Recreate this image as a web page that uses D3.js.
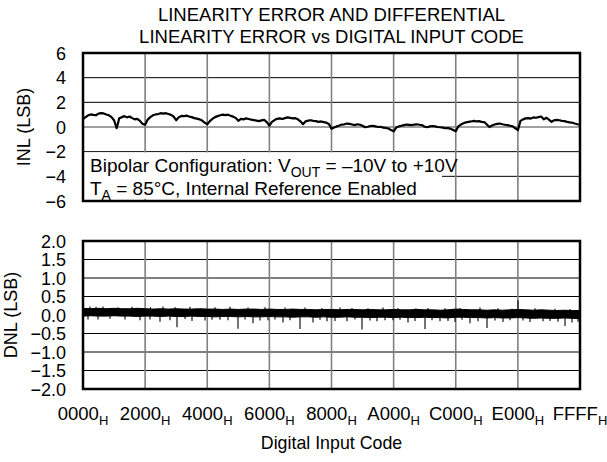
<!DOCTYPE html>
<html>
<head>
<meta charset="utf-8">
<script src="https://cdn.jsdelivr.net/npm/d3@7"></script>
<style>
  body { margin: 0; background: #fff; }
  text { font-family: "Liberation Sans", Arial, sans-serif; fill: #000; }
</style>
</head>
<body>
<div id="chart"></div>
<script>
// ---- data ----
var titleLines = ["LINEARITY ERROR AND DIFFERENTIAL", "LINEARITY ERROR vs DIGITAL INPUT CODE"];
var xTickCodes = [0x0000, 0x2000, 0x4000, 0x6000, 0x8000, 0xA000, 0xC000, 0xE000, 0xFFFF];
var xTickLabels = ["0000", "2000", "4000", "6000", "8000", "A000", "C000", "E000", "FFFF"];
var inlTicks = [6, 4, 2, 0, -2, -4, -6];
var dnlTicks = [2, 1.5, 1, 0.5, 0, -0.5, -1, -1.5, -2];

// INL, 24 samples per 2000H segment
var inlValues = [
  0.65,0.80,0.95,1.02,0.98,0.95,1.08,1.12,1.10,1.02,0.95,0.80,0.55,-0.10,0.70,0.80,0.88,0.78,0.85,0.72,0.62,0.66,0.50,0.25,
  0.18,0.60,0.80,0.95,1.02,1.05,1.12,1.08,1.12,1.05,0.98,0.85,0.55,0.80,0.90,0.88,0.92,0.85,0.80,0.72,0.68,0.62,0.52,0.35,
  0.22,0.48,0.66,0.80,0.88,0.95,1.00,0.96,1.00,0.92,0.84,0.74,0.50,0.66,0.62,0.70,0.65,0.60,0.56,0.52,0.48,0.54,0.58,0.40,
  0.12,0.42,0.56,0.66,0.70,0.65,0.72,0.78,0.74,0.70,0.72,0.62,0.46,0.22,0.46,0.52,0.55,0.50,0.48,0.42,0.45,0.40,0.35,0.25,
  -0.15,-0.05,0.05,0.12,0.20,0.22,0.28,0.25,0.20,0.15,0.22,0.18,0.10,-0.02,0.02,0.08,0.10,0.05,0.00,0.02,-0.05,-0.08,-0.12,-0.25,
  -0.35,-0.05,0.05,0.10,0.15,0.20,0.18,0.15,0.20,0.22,0.18,0.15,0.02,-0.02,0.05,0.08,0.05,0.00,-0.02,-0.05,-0.10,-0.08,-0.15,-0.25,
  -0.35,0.05,0.20,0.30,0.38,0.42,0.45,0.50,0.45,0.48,0.42,0.40,0.20,0.00,0.12,0.20,0.25,0.28,0.22,0.18,0.15,0.10,0.05,-0.10,
  -0.25,0.50,0.62,0.70,0.72,0.68,0.78,0.75,0.80,0.85,0.62,0.75,0.60,0.42,0.55,0.58,0.55,0.50,0.48,0.42,0.38,0.35,0.28,0.22,
  0.18
];

// DNL dense band, upper and lower edge, one sample every 400H
var dnlHi = [
  0.18,0.17,0.18,0.17,0.18,0.17,0.17,0.18,0.17,0.16,0.17,0.16,0.17,
  0.16,0.16,0.17,0.16,0.16,0.15,0.16,0.15,0.16,0.16,0.15,0.16,0.15,
  0.15,0.16,0.15,0.15,0.14,0.15,0.15,0.14,0.15,0.15,0.14,0.15,0.14,
  0.14,0.15,0.14,0.14,0.15,0.14,0.14,0.13,0.14,0.16,0.15,0.14,0.14,
  0.13,0.14,0.13,0.14,0.15,0.14,0.13,0.14,0.13,0.12,0.13,0.12,0.12
];
var dnlLo = [
  -0.03,-0.02,-0.03,-0.03,-0.02,-0.03,-0.03,-0.04,-0.03,-0.03,-0.04,-0.03,-0.04,
  -0.04,-0.03,-0.04,-0.04,-0.05,-0.04,-0.04,-0.05,-0.04,-0.05,-0.05,-0.04,-0.05,
  -0.05,-0.06,-0.05,-0.05,-0.06,-0.05,-0.06,-0.06,-0.05,-0.06,-0.06,-0.07,-0.06,
  -0.06,-0.07,-0.06,-0.07,-0.07,-0.06,-0.07,-0.07,-0.08,-0.06,-0.06,-0.07,-0.07,
  -0.08,-0.07,-0.08,-0.08,-0.07,-0.08,-0.09,-0.08,-0.09,-0.09,-0.08,-0.09,-0.10
];
// DNL spikes outside the band
var spikeCodes = [
  1978, 7516, 10153, 12395, 14373, 16087, 18065, 20438, 22416, 24394, 26372, 28614, 30328, 32174,
  34811, 36789, 38767, 40877, 42855, 45097, 47074, 49052, 51030, 53272, 55382, 57360, 58019, 60656, 63557, 65271,
  659, 3560, 5538, 8835, 11472, 13450, 17010, 19120, 21362, 23340, 25318, 27296, 31251, 33229, 35866,
  37844, 39822, 41800, 43778, 46020, 48130, 49976, 52085, 54327, 56305, 58942, 61580, 62634, 64480,
  923, 1714, 2637, 4615, 6461, 8900, 10549, 12131, 14109, 17406, 19384, 21757, 23999, 26636, 29273, 31515,
  33888, 35471, 37580, 39558, 41536, 43900, 45492, 47734, 49712, 52349, 54723, 56569, 59602, 62239, 64217
];
var spikeValues = [
  -0.12, -0.14, -0.18, -0.33, -0.16, -0.15, -0.13, -0.37, -0.22, -0.14, -0.20, -0.38, -0.20, -0.17,
  -0.17, -0.39, -0.17, -0.14, -0.20, -0.38, -0.17, -0.19, -0.22, -0.35, -0.19, 0.40, -0.15, -0.17, -0.30, -0.18,
  -0.12, -0.10, -0.12, -0.12, -0.14, -0.11, -0.13, -0.14, -0.12, -0.15, -0.12, -0.14, -0.13, -0.16, -0.12,
  -0.15, -0.14, -0.13, -0.16, -0.14, -0.16, -0.13, -0.17, -0.15, -0.14, -0.19, -0.16, -0.18, -0.20,
  0.23, 0.22, 0.23, 0.21, 0.22, 0.21, 0.23, 0.21, 0.22, 0.21, 0.22, 0.20, 0.21, 0.20, 0.20, 0.19,
  0.20, 0.19, 0.18, 0.20, 0.19, 0.18, 0.19, 0.18, 0.19, 0.20, 0.18, 0.17, 0.18, 0.17, 0.16
];

// ---- layout ----
var W = 607, H = 462;
var left = 83, right = 580;
var inlTop = 53, inlBottom = 201;
var dnlTop = 241, dnlBottom = 389;
var fontSize = 18.5;

var svg = d3.select("#chart").append("svg")
    .attr("width", W)
    .attr("height", H);

var x = d3.scaleLinear().domain([0, 65535]).range([left, right]);
var yI = d3.scaleLinear().domain([-6, 6]).range([inlBottom, inlTop]);
var yD = d3.scaleLinear().domain([-2, 2]).range([dnlBottom, dnlTop]);

// title
svg.selectAll(".title")
    .data(titleLines)
    .enter()
    .append("text")
    .attr("x", (left + right) / 2)
    .attr("y", function (d, i) { return 21 + i * 22; })
    .attr("text-anchor", "middle")
    .style("font-size", fontSize + "px")
    .text(function (d) { return d; });

function drawGrid(g, y, ticks, zeroGray) {
    // horizontal lines
    g.selectAll(".hl")
        .data(ticks.slice(1, -1))
        .enter()
        .append("line")
        .attr("x1", left).attr("x2", right)
        .attr("y1", function (d) { return y(d); })
        .attr("y2", function (d) { return y(d); })
        .attr("stroke", function (d) { return (d == 0 && zeroGray) ? "#808080" : "#000"; })
        .attr("stroke-width", function (d) { return (d == 0 && zeroGray) ? 1.6 : 1; });
    // vertical lines
    g.selectAll(".vl")
        .data(xTickCodes.slice(1, -1))
        .enter()
        .append("line")
        .attr("x1", function (d) { return x(d); })
        .attr("x2", function (d) { return x(d); })
        .attr("y1", y.range()[1]).attr("y2", y.range()[0])
        .attr("stroke", "#808080")
        .attr("stroke-width", 1.6);
}

function drawFrame(g, y) {
    g.append("rect")
        .attr("x", left).attr("y", y.range()[1])
        .attr("width", right - left)
        .attr("height", y.range()[0] - y.range()[1])
        .attr("fill", "none")
        .attr("stroke", "#000")
        .attr("stroke-width", 2.5);
}

function yLabels(g, y, ticks, fmt) {
    g.selectAll(".yl")
        .data(ticks)
        .enter()
        .append("text")
        .attr("x", 66)
        .attr("y", function (d) { return y(d) + 6.5; })
        .attr("text-anchor", "end")
        .style("font-size", "18px")
        .text(function (d) { return fmt(d).replace("-", "\u2212"); });
}

// ---------- INL panel ----------
var gI = svg.append("g");
drawGrid(gI, yI, inlTicks, true);

// note box
gI.append("rect")
    .attr("x", left + 1).attr("y", yI(-2) + 0.8)
    .attr("width", 442 - left - 1)
    .attr("height", yI(-6) - yI(-2) - 3)
    .attr("fill", "#fff");

var inlLine = d3.line()
    .x(function (d, i) { return x(i * 65535 / (inlValues.length - 1)); })
    .y(function (d) { return yI(d); });

gI.append("path")
    .datum(inlValues)
    .attr("d", inlLine)
    .attr("fill", "none")
    .attr("stroke", "#000")
    .attr("stroke-width", 2.2)
    .attr("stroke-linejoin", "round");

drawFrame(gI, yI);
yLabels(gI, yI, inlTicks, d3.format("d"));

var note1 = gI.append("text")
    .attr("x", 90).attr("y", 171.5)
    .style("font-size", "19px");
note1.append("tspan").text("Bipolar Configuration: V");
note1.append("tspan").attr("dy", 5).style("font-size", "14px").text("OUT");
note1.append("tspan").attr("dy", -5).text(" = \u201310V to +10V");

var note2 = gI.append("text")
    .attr("x", 90).attr("y", 195)
    .style("font-size", "19px");
note2.append("tspan").text("T");
note2.append("tspan").attr("dy", 5).style("font-size", "14px").text("A");
note2.append("tspan").attr("dy", -5).text(" = 85\u00B0C, Internal Reference Enabled");

gI.append("text")
    .attr("transform", "translate(30," + ((inlTop + inlBottom) / 2) + ") rotate(-90)")
    .attr("text-anchor", "middle")
    .style("font-size", "18px")
    .text("INL (LSB)");

// ---------- DNL panel ----------
var gD = svg.append("g");
drawGrid(gD, yD, dnlTicks, false);

var band = d3.area()
    .x(function (d, i) { return x(Math.min(i * 1024, 65535)); })
    .y0(function (d, i) { return yD(dnlLo[i]); })
    .y1(function (d) { return yD(d); });

gD.append("path")
    .datum(dnlHi)
    .attr("d", band)
    .attr("fill", "#000")
    .attr("stroke", "#000")
    .attr("stroke-width", 1);

gD.selectAll(".spike")
    .data(spikeCodes)
    .enter()
    .append("line")
    .attr("x1", function (d) { return x(d); })
    .attr("x2", function (d) { return x(d); })
    .attr("y1", yD(0.05))
    .attr("y2", function (d, i) { return yD(spikeValues[i]); })
    .attr("stroke", "#000")
    .attr("stroke-width", 1.1);

drawFrame(gD, yD);
yLabels(gD, yD, dnlTicks, d3.format(".1f"));

gD.append("text")
    .attr("transform", "translate(17," + ((dnlTop + dnlBottom) / 2) + ") rotate(-90)")
    .attr("text-anchor", "middle")
    .style("font-size", "18px")
    .text("DNL (LSB)");

// ---------- x axis labels ----------
var xl = svg.selectAll(".xl")
    .data(xTickCodes)
    .enter()
    .append("text")
    .attr("x", function (d) { return x(d); })
    .attr("y", 420)
    .attr("text-anchor", "middle")
    .style("font-size", fontSize + "px");
xl.append("tspan").text(function (d, i) { return xTickLabels[i]; });
xl.append("tspan").attr("dy", 5).style("font-size", "13px").text("H");

svg.append("text")
    .attr("x", (left + right) / 2)
    .attr("y", 449)
    .attr("text-anchor", "middle")
    .style("font-size", "17.8px")
    .text("Digital Input Code");
</script>
</body>
</html>
